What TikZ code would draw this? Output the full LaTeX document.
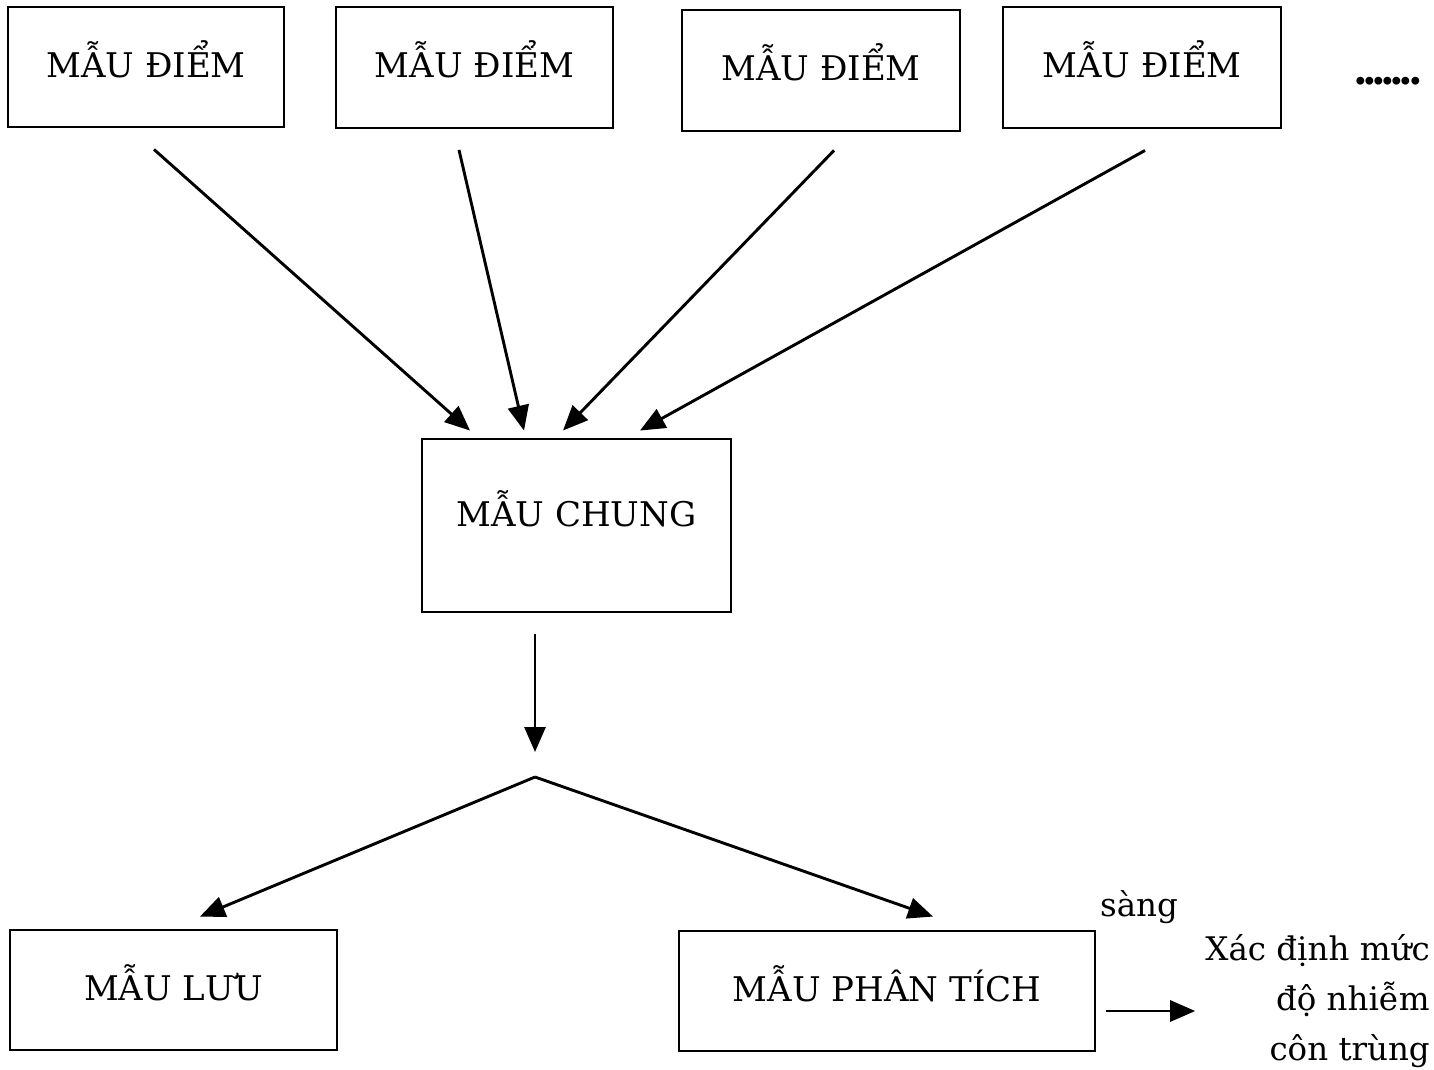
\documentclass[tikz,border=0pt]{standalone}
\usepackage{fontspec}
\setmainfont{DejaVu Serif}
\newfontfamily\schfont{DejaVu Serif}
\newfontfamily\dotfont{DejaVu Serif Bold}
\newcommand{\dd}{.\kern-5.5pt}
\usetikzlibrary{arrows.meta,calc}
\begin{document}
\begin{tikzpicture}[x=1pt,y=-1pt,
  box/.style={draw,line width=2.9pt,inner sep=0pt,text height=30pt,text depth=9pt,font=\schfont\fontsize{34}{40}\selectfont},
  arr/.style={line width=2.9pt,-{Triangle[length=25pt,width=21pt]}},
  lbl/.style={font=\schfont\fontsize{32.5}{50}\selectfont,inner sep=0pt}]
\useasboundingbox (0,0) rectangle (1434,1070);
\node[box,minimum width=276pt,minimum height=120pt] (p1) at (146,67) {MẪU ĐIỂM};
\node[box,minimum width=277pt,minimum height=121pt] (p2) at (474.5,67.5) {MẪU ĐIỂM};
\node[box,minimum width=278pt,minimum height=121pt] (p3) at (821,70.5) {MẪU ĐIỂM};
\node[box,minimum width=278pt,minimum height=121pt] (p4) at (1142,67.5) {MẪU ĐIỂM};
\node[font=\dotfont\fontsize{42}{40}\selectfont,inner sep=0pt] (dots) at (1388,81) {\dd\dd\dd\dd\dd\dd.};
\node[box,minimum width=309pt,minimum height=173pt,text depth=28pt] (chung) at (576.5,525.5) {MẪU CHUNG};
\node[box,minimum width=327pt,minimum height=120pt] (luu) at (173.5,990) {MẪU LƯU};
\node[box,minimum width=416pt,minimum height=120pt] (phan) at (887,991) {MẪU PHÂN TÍCH};
\node[lbl] (sang) at (1139,907) {sàng};
\node[lbl,align=right,anchor=east] (res) at (1430,1001) {Xác định mức\\độ nhiễm\\côn trùng};
\coordinate (split) at (535,777);
\draw[arr] ([xshift=8pt,yshift=-21pt]p1.south) -- ([xshift=-106.5pt,yshift=7pt]chung.north);
\draw[arr] ([xshift=-15.5pt,yshift=-20.5pt]p2.south) -- ([xshift=-52.5pt,yshift=7pt]chung.north);
\draw[arr] ([xshift=13pt,yshift=-18pt]p3.south) -- ([xshift=-13.5pt,yshift=7pt]chung.north);
\draw[arr] ([xshift=3pt,yshift=-21pt]p4.south) -- ([xshift=63.5pt,yshift=7pt]chung.north);
\draw[arr] ([xshift=-41.5pt,yshift=-21pt]chung.south) -- ([yshift=25pt]split);
\draw[arr] (split) -- ([xshift=26.5pt,yshift=12pt]luu.north);
\draw[arr] (split) -- ([xshift=46pt,yshift=13pt]phan.north);
\draw[arr] ([xshift=10pt,yshift=-20pt]phan.east) -- ([xshift=-10pt,yshift=-10pt]res.west);
\end{tikzpicture}
\end{document}
